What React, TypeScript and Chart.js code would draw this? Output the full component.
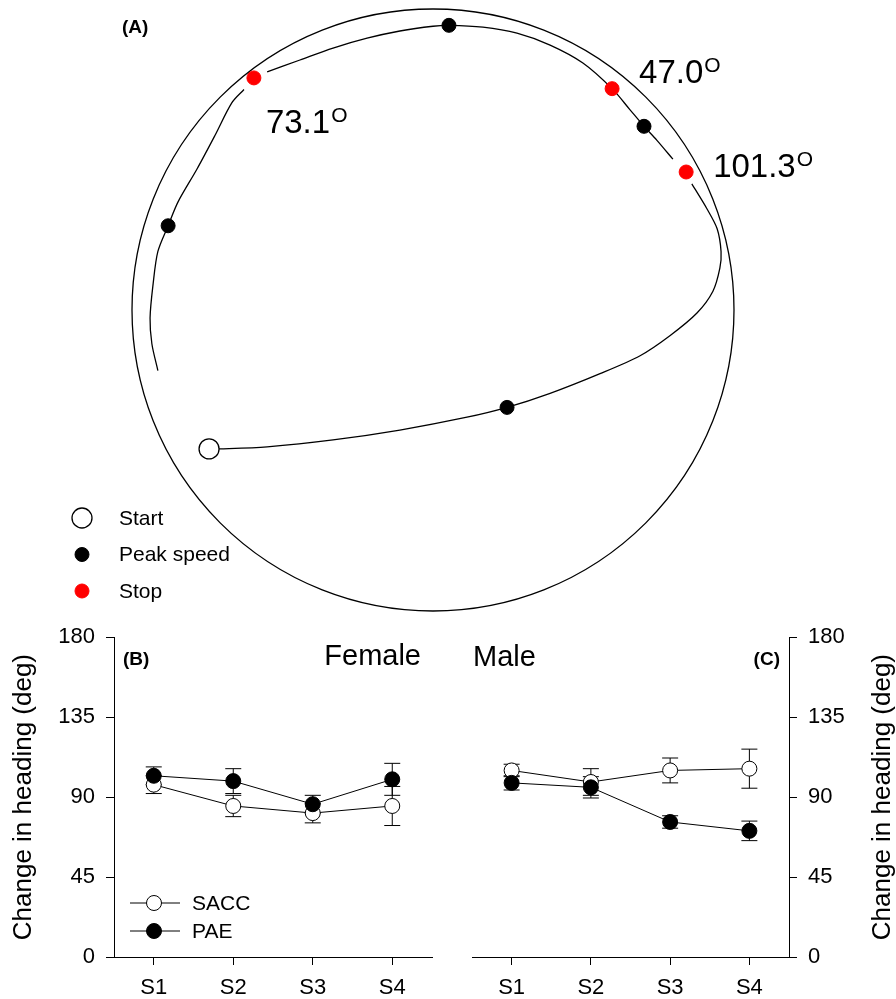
import React, { useEffect, useRef } from 'react';
import { Chart, registerables } from 'chart.js';

Chart.register(...registerables);

const FONT = '"Liberation Sans", Arial, Helvetica, sans-serif';

// ---------------- Panel A : trajectory in the arena (arena radius = 100 units) ----------------
const ARENA_RADIUS = 100;

// path from start to first stop
const PATH1_X = [-74.4, -70.8, -55.1, -33.2, -11.0, 11.3, 24.6, 38.9, 55.5, 68.8, 78.7, 87.7, 93.0, 95.3, 95.7, 94.4, 91.0, 86.0];
const PATH1_Y = [-46.5, -46.5, -45.8, -43.5, -40.2, -35.9, -32.6, -27.9, -21.3, -15.3, -8.6, -1.0, 6.3, 14.0, 19.6, 27.2, 33.9, 42.2];
// path from first stop, through second stop, to third stop
const PATH2_X = [79.7, 74.4, 70.1, 65.4, 59.5, 49.8, 38.9, 27.9, 16.6, 5.3, 0.0, -11.0, -21.9, -33.2, -44.2, -55.1];
const PATH2_Y = [50.5, 56.8, 61.5, 67.1, 74.1, 82.7, 88.7, 92.7, 94.7, 95.3, 95.0, 93.4, 91.0, 87.7, 83.7, 79.7];
// path after third stop
const PATH3_X = [-62.8, -66.8, -72.4, -78.4, -84.7, -88.0, -91.4, -93.0, -94.0, -93.4, -91.4];
const PATH3_Y = [73.8, 69.4, 58.5, 47.2, 36.2, 28.2, 19.6, 8.6, -2.7, -11.3, -20.3];

const START_X = [-74.4];
const START_Y = [-46.5];
const PEAK_X = [24.6, 70.1, 5.3, -88.0];
const PEAK_Y = [-32.6, 61.5, 95.3, 28.2];
const STOP_X = [84.1, 59.5, -59.5];
const STOP_Y = [46.2, 74.1, 77.7];
const STOP_ANGLES = ['101.3', '47.0', '73.1'];

// ---------------- Panels B and C ----------------
const SESSIONS = ['S1', 'S2', 'S3', 'S4'];
const Y_TICKS = [0, 45, 90, 135, 180];
const Y_TITLE = 'Change in heading (deg)';

const FEMALE_SACC = [97, 85, 81, 85];
const FEMALE_SACC_ERR = [5, 6, 5.5, 11];
const FEMALE_PAE = [102, 99, 86, 100];
const FEMALE_PAE_ERR = [5, 7, 5, 9];

const MALE_SACC = [105, 98.5, 105, 106];
const MALE_SACC_ERR = [3.5, 7.5, 7, 11];
const MALE_PAE = [98, 95.5, 76, 71];
const MALE_PAE_ERR = [4, 6, 3.5, 5.5];

// ---------------- plugins ----------------
const arenaPlugin = (radius: number) => ({
  id: 'arena',
  beforeDatasetsDraw(chart: any) {
    const { ctx, scales } = chart;
    const cx = scales.x.getPixelForValue(0);
    const cy = scales.y.getPixelForValue(0);
    const r = scales.x.getPixelForValue(radius) - cx;
    ctx.save();
    ctx.beginPath();
    ctx.arc(cx, cy, r, 0, Math.PI * 2);
    ctx.lineWidth = 1.3;
    ctx.strokeStyle = '#000';
    ctx.stroke();
    ctx.restore();
  },
});

const angleLabelPlugin = (labels: string[], offsets: number[][]) => ({
  id: 'angleLabels',
  afterDatasetsDraw(chart: any) {
    const { ctx } = chart;
    const di = chart.data.datasets.findIndex((d: any) => d.label === 'Stop');
    const meta = chart.getDatasetMeta(di);
    ctx.save();
    ctx.fillStyle = '#000';
    ctx.textBaseline = 'alphabetic';
    ctx.textAlign = 'left';
    labels.forEach((t, i) => {
      const el = meta.data[i];
      const x = el.x + offsets[i][0];
      const y = el.y + offsets[i][1];
      ctx.font = `33px ${FONT}`;
      ctx.fillText(t, x, y);
      const w = ctx.measureText(t).width;
      ctx.font = `21px ${FONT}`;
      ctx.fillText('O', x + w + 1, y - 11);
    });
    ctx.restore();
  },
});

const markerLegendPlugin = (x: number, y0: number, gap: number, textX: number) => ({
  id: 'markerLegend',
  afterDraw(chart: any) {
    const { ctx } = chart;
    const items = chart.data.datasets.filter((d: any) => d.inLegend);
    ctx.save();
    items.forEach((d: any, i: number) => {
      const y = y0 + i * gap;
      ctx.beginPath();
      ctx.arc(x, y, d.pointRadius, 0, Math.PI * 2);
      ctx.fillStyle = d.pointBackgroundColor;
      ctx.fill();
      ctx.lineWidth = d.pointBorderWidth || 1;
      ctx.strokeStyle = d.pointBorderColor;
      ctx.stroke();
      ctx.fillStyle = '#000';
      ctx.font = `21px ${FONT}`;
      ctx.textAlign = 'left';
      ctx.textBaseline = 'middle';
      ctx.fillText(d.label, textX, y + 1);
    });
    ctx.restore();
  },
});

const errorBarPlugin = {
  id: 'errorBars',
  beforeDatasetsDraw(chart: any) {
    const { ctx } = chart;
    const ys = chart.scales.y;
    chart.data.datasets.forEach((ds: any, di: number) => {
      if (!ds.errors) return;
      const meta = chart.getDatasetMeta(di);
      ctx.save();
      ctx.strokeStyle = '#000';
      ctx.lineWidth = 1;
      ds.data.forEach((v: number, i: number) => {
        const e = ds.errors[i];
        const x = meta.data[i].x;
        const yt = ys.getPixelForValue(v + e);
        const yb = ys.getPixelForValue(v - e);
        ctx.beginPath();
        ctx.moveTo(x, yt);
        ctx.lineTo(x, yb);
        ctx.moveTo(x - 8, yt);
        ctx.lineTo(x + 8, yt);
        ctx.moveTo(x - 8, yb);
        ctx.lineTo(x + 8, yb);
        ctx.stroke();
      });
      ctx.restore();
    });
  },
};

const sideTitlePlugin = (text: string, x: number) => ({
  id: 'sideTitle',
  afterDraw(chart: any) {
    const { ctx, chartArea } = chart;
    ctx.save();
    ctx.translate(x, (chartArea.top + chartArea.bottom) / 2);
    ctx.rotate(-Math.PI / 2);
    ctx.font = `26px ${FONT}`;
    ctx.fillStyle = '#000';
    ctx.textAlign = 'center';
    ctx.textBaseline = 'middle';
    ctx.fillText(text, 0, 0);
    ctx.restore();
  },
});

type TextItem = { text: string; dx: number; dy: number; font: string; align: CanvasTextAlign; from: 'left' | 'right' };
const panelTextPlugin = (items: TextItem[]) => ({
  id: 'panelText',
  afterDraw(chart: any) {
    const { ctx, chartArea } = chart;
    ctx.save();
    ctx.fillStyle = '#000';
    ctx.textBaseline = 'alphabetic';
    items.forEach((it) => {
      ctx.font = it.font;
      ctx.textAlign = it.align;
      const x = (it.from === 'left' ? chartArea.left : chartArea.right) + it.dx;
      ctx.fillText(it.text, x, chartArea.top + it.dy);
    });
    ctx.restore();
  },
});

const seriesLegendPlugin = {
  id: 'seriesLegend',
  afterDraw(chart: any) {
    const { ctx, chartArea } = chart;
    ctx.save();
    chart.data.datasets.forEach((d: any, i: number) => {
      const y = chartArea.bottom - 54 + i * 28;
      const x0 = chartArea.left + 16;
      ctx.beginPath();
      ctx.moveTo(x0, y);
      ctx.lineTo(x0 + 50, y);
      ctx.strokeStyle = '#000';
      ctx.lineWidth = 1;
      ctx.stroke();
      ctx.beginPath();
      ctx.arc(x0 + 24, y, d.pointRadius, 0, Math.PI * 2);
      ctx.fillStyle = d.pointBackgroundColor;
      ctx.fill();
      ctx.stroke();
      ctx.fillStyle = '#000';
      ctx.font = `21px ${FONT}`;
      ctx.textAlign = 'left';
      ctx.textBaseline = 'middle';
      ctx.fillText(d.label, chartArea.left + 78, y + 1);
    });
    ctx.restore();
  },
};

// ---------------- configs ----------------
const pts = (xs: number[], ys: number[]) => xs.map((x, i) => ({ x, y: ys[i] }));

function arenaConfig(): any {
  const pathDs = (xs: number[], ys: number[]) => ({
    label: '',
    data: pts(xs, ys),
    showLine: true,
    borderColor: '#000',
    borderWidth: 1.3,
    pointRadius: 0,
    tension: 0.3,
    order: 5,
  });
  return {
    type: 'scatter',
    data: {
      datasets: [
        pathDs(PATH1_X, PATH1_Y),
        pathDs(PATH2_X, PATH2_Y),
        pathDs(PATH3_X, PATH3_Y),
        {
          label: 'Start', data: pts(START_X, START_Y), inLegend: true,
          pointRadius: 10, pointBackgroundColor: '#ffffff', pointBorderColor: '#000000', pointBorderWidth: 1.3, order: 0,
        },
        {
          label: 'Peak speed', data: pts(PEAK_X, PEAK_Y), inLegend: true,
          pointRadius: 7, pointBackgroundColor: '#000000', pointBorderColor: '#000000', pointBorderWidth: 1, order: 0,
        },
        {
          label: 'Stop', data: pts(STOP_X, STOP_Y), inLegend: true,
          pointRadius: 7, pointBackgroundColor: '#ff0000', pointBorderColor: '#ff0000', pointBorderWidth: 1, order: 0,
        },
      ],
    },
    options: {
      responsive: false,
      animation: false,
      devicePixelRatio: 1,
      layout: { padding: { left: 132, right: 162, top: 8, bottom: 10 } },
      plugins: { legend: { display: false }, tooltip: { enabled: false } },
      scales: {
        x: { type: 'linear', min: -ARENA_RADIUS, max: ARENA_RADIUS, display: false },
        y: { type: 'linear', min: -ARENA_RADIUS, max: ARENA_RADIUS, display: false },
      },
    },
    plugins: [
      arenaPlugin(ARENA_RADIUS),
      angleLabelPlugin(STOP_ANGLES, [[27, 5], [27, -6], [12, 55]]),
      markerLegendPlugin(82, 518, 36.5, 119),
      panelTextPlugin([{ text: '(A)', dx: -10, dy: 22, font: `bold 19px ${FONT}`, align: 'left', from: 'left' }]),
    ],
  };
}

function sexConfig(side: 'left' | 'right', sacc: number[], saccErr: number[], pae: number[], paeErr: number[], sexLabel: string, tag: string): any {
  const isLeft = side === 'left';
  const axisGrid = { drawOnChartArea: false, drawTicks: true, tickLength: 8, color: '#000', tickColor: '#000', lineWidth: 1 };
  const axisBorder = { display: true, color: '#000', width: 1 };
  const texts: TextItem[] = isLeft
    ? [
        { text: tag, dx: 9, dy: 28, font: `bold 19px ${FONT}`, align: 'left', from: 'left' },
        { text: sexLabel, dx: -11, dy: 28, font: `29px ${FONT}`, align: 'right', from: 'right' },
      ]
    : [
        { text: tag, dx: -9, dy: 28, font: `bold 19px ${FONT}`, align: 'right', from: 'right' },
        { text: sexLabel, dx: 1, dy: 29, font: `29px ${FONT}`, align: 'left', from: 'left' },
      ];
  const plugins: any[] = [errorBarPlugin, panelTextPlugin(texts), sideTitlePlugin(Y_TITLE, isLeft ? 24 : 435)];
  if (isLeft) plugins.push(seriesLegendPlugin);
  return {
    type: 'line',
    data: {
      labels: SESSIONS,
      datasets: [
        {
          label: 'SACC', data: sacc, errors: saccErr, borderColor: '#000', borderWidth: 1, tension: 0,
          pointRadius: 7.5, pointBackgroundColor: '#ffffff', pointBorderColor: '#000', pointBorderWidth: 1, order: 1,
        },
        {
          label: 'PAE', data: pae, errors: paeErr, borderColor: '#000', borderWidth: 1, tension: 0,
          pointRadius: 7.5, pointBackgroundColor: '#000000', pointBorderColor: '#000', pointBorderWidth: 1, order: 0,
        },
      ],
    },
    options: {
      responsive: false,
      animation: false,
      devicePixelRatio: 1,
      layout: { padding: isLeft ? { left: 0, right: 16, top: 10, bottom: 0 } : { left: 24, right: 0, top: 10, bottom: 0 } },
      plugins: { legend: { display: false }, tooltip: { enabled: false } },
      scales: {
        x: {
          type: 'category',
          offset: true,
          grid: { ...axisGrid, offset: false },
          border: axisBorder,
          ticks: { color: '#000', font: { family: FONT, size: 22 }, padding: 10, maxRotation: 0 },
          afterFit: (s: any) => { s.height = 42; },
        },
        y: {
          position: side,
          min: 0,
          max: 180,
          afterBuildTicks: (s: any) => { s.ticks = Y_TICKS.map((v) => ({ value: v })); },
          grid: axisGrid,
          border: axisBorder,
          ticks: { color: '#000', font: { family: FONT, size: 22 }, padding: 11 },
          afterFit: (s: any) => { s.width = isLeft ? 114 : 107; },
        },
      },
    },
    plugins,
  };
}

function ChartCanvas({ left, top, width, height, make }: { left: number; top: number; width: number; height: number; make: () => any }) {
  const ref = useRef<HTMLCanvasElement>(null);
  useEffect(() => {
    const chart = new Chart(ref.current as HTMLCanvasElement, make());
    return () => chart.destroy();
  }, []);
  return (
    <canvas
      ref={ref}
      width={width}
      height={height}
      style={{ position: 'absolute', left, top, width, height, display: 'block' }}
    />
  );
}

export default function App() {
  return (
    <div style={{ position: 'absolute', left: 0, top: 0, width: 896, height: 999, background: '#fff', overflow: 'hidden' }}>
      <ChartCanvas left={0} top={0} width={896} height={620} make={arenaConfig} />
      <ChartCanvas
        left={0}
        top={613}
        width={448}
        height={386}
        make={() => sexConfig('left', FEMALE_SACC, FEMALE_SACC_ERR, FEMALE_PAE, FEMALE_PAE_ERR, 'Female', '(B)')}
      />
      <ChartCanvas
        left={448}
        top={613}
        width={448}
        height={386}
        make={() => sexConfig('right', MALE_SACC, MALE_SACC_ERR, MALE_PAE, MALE_PAE_ERR, 'Male', '(C)')}
      />
    </div>
  );
}
